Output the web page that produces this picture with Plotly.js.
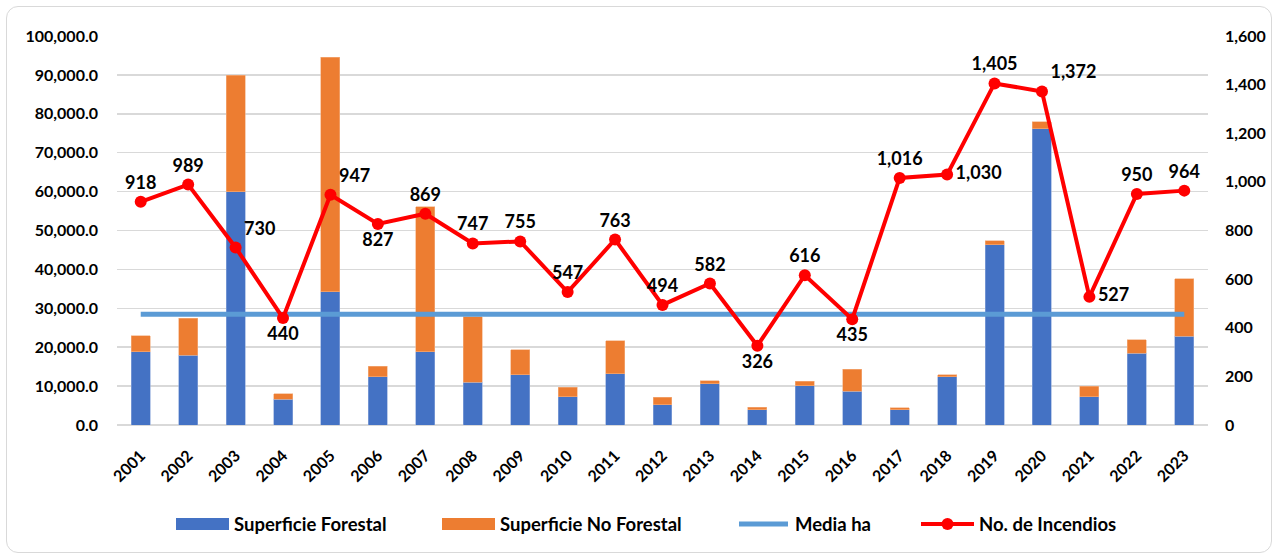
<!DOCTYPE html>
<html>
<head>
<meta charset="utf-8">
<script src="https://cdn.plot.ly/plotly-3.0.1.min.js"></script>
<style>
html,body{margin:0;padding:0;background:#fff;}
#wrap{position:relative;width:1278px;height:557px;}
#chart{width:1278px;height:557px;}
#frame{position:absolute;left:6px;top:6px;width:1264px;height:545px;border:1px solid #d9d9d9;border-radius:12px;pointer-events:none;}
</style>
</head>
<body>
<div id="wrap"><div id="chart"></div><div id="frame"></div></div>
<script>
const years = ['2001','2002','2003','2004','2005','2006','2007','2008','2009','2010','2011','2012','2013','2014','2015','2016','2017','2018','2019','2020','2021','2022','2023'];
const superficieForestal = [18800,17900,59900,6600,34200,12400,18800,11000,12900,7300,13200,5200,10600,3900,10100,8700,3900,12400,46300,76200,7300,18400,22800];
const superficieNoForestal = [4100,9500,30000,1400,60300,2700,37300,16800,6500,2400,8500,1900,800,700,1200,5600,600,500,1100,1800,2700,3500,14800];
const mediaHa = 28500;
const incendios = [918,989,730,440,947,827,869,747,755,547,763,494,582,326,616,435,1016,1030,1405,1372,527,950,964];
const labelPos = ['top center','top center','top right','bottom center','top right','bottom center','top center','top center','top center','top center','top center','top center','top center','bottom center','top center','bottom center','top center','middle right','top center','top right','middle right','top center','top center'];
const seriesNames = ['Superficie Forestal','Superficie No Forestal','Media ha','No. de Incendios'];
const seriesColors = ['#4472C4','#ED7D31','#5B9BD5','#FF0000'];

const F = 'Lato, "Open Sans", Arial, sans-serif';

const traces = [
  {type:'bar', name:seriesNames[0], x:years, y:superficieForestal, marker:{color:seriesColors[0], line:{color:'#8FAADC', width:0.6}}, yaxis:'y', hoverinfo:'skip'},
  {type:'bar', name:seriesNames[1], x:years, y:superficieNoForestal, marker:{color:seriesColors[1], line:{color:'#F4B183', width:0.6}}, yaxis:'y', hoverinfo:'skip'},
  {type:'scatter', mode:'lines', name:seriesNames[2], x:[years[0], years[years.length-1]], y:[mediaHa, mediaHa], line:{color:seriesColors[2], width:5}, yaxis:'y', hoverinfo:'skip'},
  {type:'scatter', mode:'lines+markers+text', name:seriesNames[3], x:years, y:incendios, yaxis:'y2',
   line:{color:seriesColors[3], width:4}, marker:{color:seriesColors[3], size:12},
   text:incendios.map(v=>v.toLocaleString('en-US')), textposition:labelPos,
   textfont:{family:F, size:18, color:'#000', weight:'bold'}, cliponaxis:false, hoverinfo:'skip'}
];

// custom legend (layout geometry in pixels -> paper coords)
const L = 117, R = 1208, T = 36, B = 425;
const px = p => (p - L) / (R - L);
const py = p => (B - p) / (B - T);
const legY = 524;
const legSym = [176, 442, 737, 921];   // left edge of each symbol
const symW = 53;
const shapes = [];
const annotations = [];
[0,1].forEach(i => shapes.push({type:'rect', xref:'paper', yref:'paper', x0:px(legSym[i]), x1:px(legSym[i]+symW), y0:py(legY+6), y1:py(legY-6), fillcolor:seriesColors[i], line:{width:0}}));
shapes.push({type:'line', xref:'paper', yref:'paper', x0:px(legSym[2]+2), x1:px(legSym[2]+symW-2), y0:py(legY), y1:py(legY), line:{color:seriesColors[2], width:5}});
shapes.push({type:'line', xref:'paper', yref:'paper', x0:px(legSym[3]), x1:px(legSym[3]+symW), y0:py(legY), y1:py(legY), line:{color:seriesColors[3], width:4}});
shapes.push({type:'circle', xref:'paper', yref:'paper', x0:px(legSym[3]+symW/2-6), x1:px(legSym[3]+symW/2+6), y0:py(legY+6), y1:py(legY-6), fillcolor:seriesColors[3], line:{width:0}});
seriesNames.forEach((n,i) => annotations.push({xref:'paper', yref:'paper', x:px(legSym[i]+symW+3), y:py(legY), xanchor:'left', yanchor:'middle', showarrow:false, text:n, font:{family:F, size:18.5, color:'#000', weight:'bold'}}));

const layout = {
  width:1278, height:557,
  margin:{l:L, r:1278-R, t:T, b:557-B},
  paper_bgcolor:'#fff', plot_bgcolor:'#fff',
  barmode:'stack', bargap:0.6,
  font:{family:F, color:'#000'},
  showlegend:false,
  shapes:shapes, annotations:annotations,
  xaxis:{type:'category', automargin:false, range:[-0.5, years.length-0.5], tickangle:-45, tickfont:{family:F, size:16, weight:'bold', color:'#000'}, showgrid:false, showline:false, ticks:'outside', ticklen:14, tickcolor:'rgba(0,0,0,0)'},
  yaxis:{automargin:false, range:[0,100000], dtick:10000, tickformat:',.1f', tickfont:{family:F, size:16, weight:'bold', color:'#000'},
    gridcolor:'#d9d9d9', gridwidth:1.5, zeroline:true, zerolinecolor:'#d9d9d9', zerolinewidth:1.5, showline:false, ticklabelstandoff:18},
  yaxis2:{automargin:false, overlaying:'y', side:'right', range:[0,1600], dtick:200, tickformat:',', tickfont:{family:F, size:16, weight:'bold', color:'#000'},
    showgrid:false, zeroline:false, showline:false, ticklabelstandoff:16}
};

Plotly.newPlot('chart', traces, layout, {staticPlot:true, displayModeBar:false});
</script>
</body>
</html>
